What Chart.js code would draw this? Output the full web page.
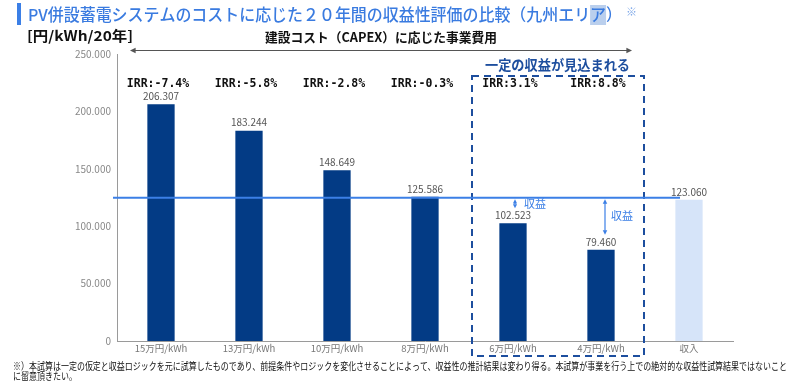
<!DOCTYPE html>
<html>
<head>
<meta charset="utf-8">
<script src="https://cdn.jsdelivr.net/npm/chart.js@4/dist/chart.umd.min.js"></script>
<style>
html,body{margin:0;padding:0;background:#fff;}
#wrap{width:800px;height:381px;position:relative;}
</style>
</head>
<body>
<div id="wrap"><canvas id="c" width="800" height="381"></canvas></div>
<script>
// ---- data ----
const categories = ['15万円/kWh','13万円/kWh','10万円/kWh','8万円/kWh','6万円/kWh','4万円/kWh','収入'];
const values = [206307, 183244, 148649, 125586, 102523, 79460, 123060];
const irrLabels = ['IRR:-7.4%','IRR:-5.8%','IRR:-2.8%','IRR:-0.3%','IRR:3.1%','IRR:8.8%'];
const revenueValue = 123060;

const titleText = 'PV併設蓄電システムのコストに応じた２０年間の収益性評価の比較（九州エリア）';
const unitText = '[円/kWh/20年]';
const capexText = '建設コスト（CAPEX）に応じた事業費用';
const boxText = '一定の収益が見込まれる';
const gainText = '収益';
const noteLine1 = '※）本試算は一定の仮定と収益ロジックを元に試算したものであり、前提条件やロジックを変化させることによって、収益性の推計結果は変わり得る。本試算が事業を行う上での絶対的な収益性試算結果ではないこと';
const noteLine2 = 'に留意頂きたい。';

const FONT = '"Noto Sans CJK JP","Noto Sans",sans-serif';
const MONO = '"DejaVu Sans Mono","Liberation Mono",monospace';
const NAVY = '#033b85';
const LIGHT = '#d6e4f9';
const BLUE = '#3b7fe6';
const DASH = '#1d4e9e';

function fmt(v){ return v.toString().replace(/\B(?=(\d{3})+(?!\d))/g, '.'); }

// draw text fitted to a target width (horizontal scale)
function fitText(ctx, text, x, y, width){
  const w = ctx.measureText(text).width;
  const s = width / w;
  ctx.save();
  ctx.translate(x, y);
  ctx.scale(s, 1);
  ctx.fillText(text, 0, 0);
  ctx.restore();
  return s;
}

function arrowHead(ctx, x, y, dir, size){
  ctx.beginPath();
  if (dir === 'l'){ ctx.moveTo(x, y); ctx.lineTo(x+size*1.6, y-size*0.8); ctx.lineTo(x+size*1.6, y+size*0.8); }
  else if (dir === 'r'){ ctx.moveTo(x, y); ctx.lineTo(x-size*1.6, y-size*0.8); ctx.lineTo(x-size*1.6, y+size*0.8); }
  else if (dir === 'u'){ ctx.moveTo(x, y); ctx.lineTo(x-size*0.8, y+size*1.6); ctx.lineTo(x+size*0.8, y+size*1.6); }
  else { ctx.moveTo(x, y); ctx.lineTo(x-size*0.8, y-size*1.6); ctx.lineTo(x+size*0.8, y-size*1.6); }
  ctx.closePath();
  ctx.fill();
}

const overlay = {
  id: 'overlay',
  afterDraw(chart){
    const ctx = chart.ctx;
    const ca = chart.chartArea;
    const ys = chart.scales.y;
    const bars = chart.getDatasetMeta(0).data;
    const step = (ca.right - ca.left) / categories.length;
    ctx.save();

    // title bar + title
    ctx.fillStyle = BLUE;
    ctx.fillRect(17, 3, 4, 22);
    ctx.font = '500 16.5px ' + FONT;
    ctx.textBaseline = 'middle';
    ctx.textAlign = 'left';
    const tw = ctx.measureText(titleText).width;
    const ts = 594 / tw;
    const idx = titleText.indexOf('ア');
    const pre = ctx.measureText(titleText.slice(0, idx)).width * ts;
    const aw = ctx.measureText('ア').width * ts;
    ctx.fillStyle = 'rgba(140,175,225,0.6)';
    ctx.fillRect(28 + pre, 5, aw, 20);
    ctx.fillStyle = '#3a7be0';
    fitText(ctx, titleText, 28, 15, 594);
    ctx.fillStyle = '#7ea8e8';
    ctx.font = '11px ' + FONT;
    ctx.fillText('※', 626, 12);

    // unit label
    ctx.fillStyle = '#111';
    ctx.font = 'bold 14px ' + FONT;
    fitText(ctx, unitText, 27, 36, 106);

    // CAPEX header + arrow
    ctx.font = 'bold 13px ' + FONT;
    fitText(ctx, capexText, 265, 37, 232);
    const ay = 50;
    const ax1 = ca.left + 13, ax2 = ca.left + step * 6 - 13;
    ctx.strokeStyle = '#555';
    ctx.fillStyle = '#555';
    ctx.lineWidth = 1;
    ctx.beginPath(); ctx.moveTo(ax1 + 4, ay + 0.5); ctx.lineTo(ax2 - 4, ay + 0.5); ctx.stroke();
    arrowHead(ctx, ax1, ay + 0.5, 'l', 3.5);
    arrowHead(ctx, ax2, ay + 0.5, 'r', 3.5);

    // dashed box
    const bx1 = ca.left + step * 4 + 3, bx2 = ca.left + step * 6 - 1;
    ctx.strokeStyle = DASH;
    ctx.lineWidth = 2;
    ctx.setLineDash([7, 5]);
    ctx.strokeRect(bx1, 76, bx2 - bx1, 356 - 76);
    ctx.setLineDash([]);
    ctx.fillStyle = DASH;
    ctx.font = 'bold 14px ' + FONT;
    fitText(ctx, boxText, 485, 65, 145);

    // IRR labels
    ctx.fillStyle = '#111';
    ctx.font = 'bold 11.5px ' + MONO;
    ctx.textAlign = 'center';
    irrLabels.forEach((t, i) => {
      ctx.fillText(t, bars[i].x - 3, 84);
    });

    // value labels
    ctx.fillStyle = '#555';
    ctx.font = '10px ' + FONT;
    ctx.textBaseline = 'bottom';
    values.forEach((v, i) => {
      ctx.fillText(fmt(v), bars[i].x, bars[i].y - 3);
    });

    // revenue line
    const ly = ys.getPixelForValue(revenueValue) - 2;
    ctx.strokeStyle = BLUE;
    ctx.lineWidth = 2;
    ctx.beginPath();
    ctx.moveTo(ca.left - 4, ly);
    ctx.lineTo(bars[6].x - 9, ly);
    ctx.stroke();

    // gain arrows
    ctx.fillStyle = BLUE;
    ctx.strokeStyle = BLUE;
    ctx.lineWidth = 1.2;
    const g1x = bars[4].x + 2;
    const g1b = bars[4].y - 15;
    ctx.beginPath(); ctx.moveTo(g1x, ly + 4); ctx.lineTo(g1x, g1b - 4); ctx.stroke();
    arrowHead(ctx, g1x, ly + 1.5, 'u', 2.6);
    arrowHead(ctx, g1x, g1b, 'd', 2.6);
    const g2x = bars[5].x + 4;
    const g2b = bars[5].y - 15;
    ctx.beginPath(); ctx.moveTo(g2x, ly + 4); ctx.lineTo(g2x, g2b - 4); ctx.stroke();
    arrowHead(ctx, g2x, ly + 1.5, 'u', 2.8);
    arrowHead(ctx, g2x, g2b, 'd', 2.8);
    ctx.font = '11px ' + FONT;
    ctx.textAlign = 'left';
    ctx.textBaseline = 'middle';
    ctx.fillText(gainText, g1x + 9, ly + 6);
    ctx.fillText(gainText, g2x + 6, (ly + g2b) / 2);

    // footnote
    ctx.fillStyle = '#111';
    ctx.font = '10px ' + FONT;
    const s = fitText(ctx, noteLine1, 13, 366, 774);
    ctx.save();
    ctx.translate(13, 376);
    ctx.scale(s, 1);
    ctx.fillText(noteLine2, 0, 0);
    ctx.restore();

    ctx.restore();
  }
};

new Chart(document.getElementById('c'), {
  type: 'bar',
  data: {
    labels: categories,
    datasets: [{
      data: values,
      backgroundColor: values.map((v, i) => i === values.length - 1 ? LIGHT : NAVY),
      borderWidth: 0,
      categoryPercentage: 1,
      barPercentage: 0.31
    }]
  },
  options: {
    responsive: false,
    animation: false,
    devicePixelRatio: 1,
    layout: { padding: { left: 0, right: 67, top: 54, bottom: 0 } },
    plugins: { legend: { display: false }, tooltip: { enabled: false }, title: { display: false } },
    scales: {
      x: {
        grid: { display: false, drawTicks: false },
        border: { display: true, color: '#9a9a9a', width: 1 },
        ticks: { color: '#777', font: { family: FONT, size: 9.5 }, padding: 2, maxRotation: 0, autoSkip: false },
        afterFit(s){ s.height = 40; }
      },
      y: {
        min: 0, max: 250000,
        grid: { display: false, drawTicks: false },
        border: { display: true, color: '#9a9a9a', width: 1 },
        ticks: { stepSize: 50000, color: '#888', font: { family: FONT, size: 10 }, padding: 6,
          callback: v => fmt(v) },
        afterFit(s){ s.width = 117; }
      }
    }
  },
  plugins: [overlay]
});
</script>
</body>
</html>
